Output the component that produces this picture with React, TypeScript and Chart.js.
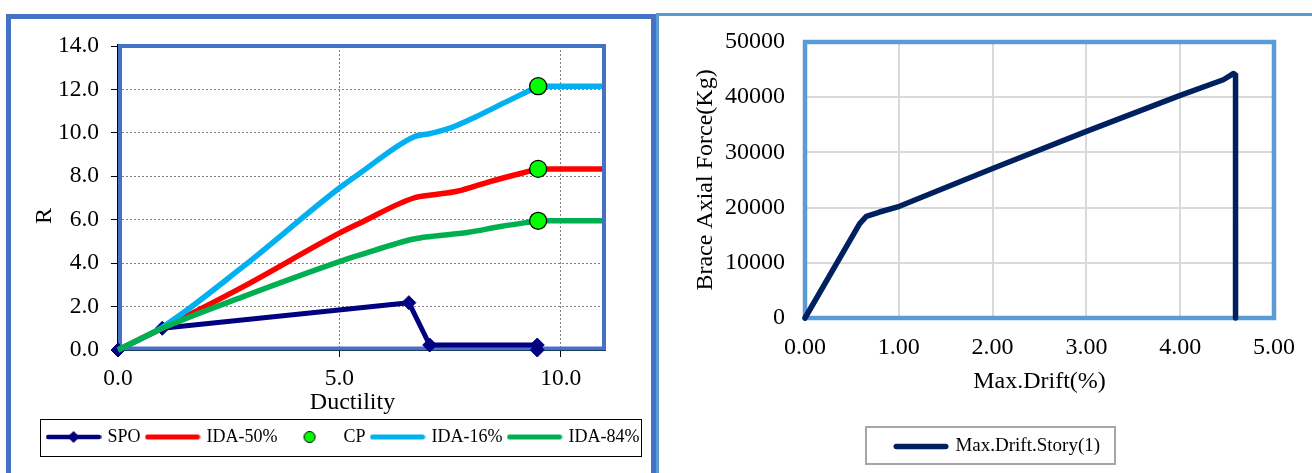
import React, { useEffect, useRef } from "react";
import { Chart, registerables } from "chart.js";

Chart.register(...registerables);

const FONT = "'Liberation Serif', 'Times New Roman', serif";

// ---- Left chart data (Ductility vs R) ----
const SPO_X = [0, 1, 6.57, 7.04, 9.47, 9.47];
const SPO_Y = [0, 1, 2.18, 0.23, 0.23, 0];
const IDA50_X = [0, 1, 2.83, 5, 5.47, 6.68, 7.13, 7.66, 8.42, 9.49, 11];
const IDA50_Y = [0, 1.0, 2.92, 5.38, 5.85, 7.0, 7.15, 7.31, 7.77, 8.34, 8.34];
const IDA16_X = [0, 1, 2.83, 5, 5.47, 6.68, 7.06, 7.51, 8.11, 8.72, 9.49, 11];
const IDA16_Y = [0, 1.05, 3.85, 7.46, 8.15, 9.81, 9.97, 10.23, 10.77, 11.38, 12.15, 12.15];
const IDA84_X = [0, 1, 2.83, 5, 5.47, 6.68, 7.06, 7.89, 8.64, 9.49, 11];
const IDA84_Y = [0, 1.0, 2.46, 4.07, 4.38, 5.11, 5.23, 5.41, 5.69, 5.95, 5.95];
const CP_X = [9.49, 9.49, 9.49];
const CP_Y = [12.15, 8.34, 5.95];
const LEFT_X_TICKS = [0, 5, 10];
const LEFT_LABELS = ["SPO", "IDA-50%", "CP", "IDA-16%", "IDA-84%"];

// ---- Right chart data (Max drift vs brace axial force) ----
const DRIFT_X = [0, 0.583, 0.654, 0.795, 1.007, 2.0, 3.0, 4.0, 4.46, 4.57, 4.59, 4.59];
const FORCE_Y = [0, 17090, 18420, 19200, 20240, 27070, 33800, 40330, 43160, 44300, 44000, 0];
const RIGHT_LABEL = "Max.Drift.Story(1)";

const NAVY = "#000080";
const RED = "#FF0000";
const CYAN = "#00B0F0";
const GREEN = "#00B050";
const CPGREEN = "#00FF00";
const DARKNAVY = "#002060";

const pts = (xs: number[], ys: number[]) => xs.map((x, i) => ({ x, y: ys[i] }));

function makeCanvas(w: number, h: number, draw: (ctx: CanvasRenderingContext2D) => void) {
  const c = document.createElement("canvas");
  c.width = w;
  c.height = h;
  const ctx = c.getContext("2d")!;
  draw(ctx);
  return c;
}

function lineSym(color: string, w: number, h: number, lw: number) {
  return makeCanvas(w, h, (ctx) => {
    ctx.strokeStyle = color;
    ctx.lineWidth = lw;
    ctx.lineCap = "round";
    ctx.beginPath();
    ctx.moveTo(lw / 2 + 0.5, h / 2);
    ctx.lineTo(w - lw / 2 - 0.5, h / 2);
    ctx.stroke();
  });
}

function spoSym() {
  return makeCanvas(56, 14, (ctx) => {
    ctx.strokeStyle = NAVY;
    ctx.lineWidth = 4.5;
    ctx.lineCap = "round";
    ctx.beginPath();
    ctx.moveTo(2.5, 7);
    ctx.lineTo(53.5, 7);
    ctx.stroke();
    ctx.fillStyle = NAVY;
    ctx.beginPath();
    ctx.moveTo(28, 1);
    ctx.lineTo(34, 7);
    ctx.lineTo(28, 13);
    ctx.lineTo(22, 7);
    ctx.closePath();
    ctx.fill();
  });
}

function cpSym() {
  return makeCanvas(14, 14, (ctx) => {
    ctx.fillStyle = CPGREEN;
    ctx.strokeStyle = "#000";
    ctx.lineWidth = 1;
    ctx.beginPath();
    ctx.arc(7, 7, 5.5, 0, Math.PI * 2);
    ctx.fill();
    ctx.stroke();
  });
}

const leftFrame = {
  id: "leftFrame",
  beforeDatasetsDraw(chart: any) {
    const { ctx, chartArea: a } = chart;
    ctx.save();
    ctx.strokeStyle = "#000";
    ctx.lineWidth = 1;
    ctx.beginPath();
    ctx.moveTo(a.left - 0.5, a.top - 2);
    ctx.lineTo(a.left - 0.5, a.bottom + 0.5);
    ctx.lineTo(a.right + 1, a.bottom + 0.5);
    ctx.stroke();
    ctx.strokeStyle = "#4472C4";
    ctx.lineWidth = 4;
    ctx.strokeRect(a.left + 2, a.top, a.right - a.left - 3, a.bottom - a.top - 1.5);
    ctx.restore();
  },
};

const rightFrame = {
  id: "rightFrame",
  beforeDatasetsDraw(chart: any) {
    const { ctx, chartArea: a } = chart;
    ctx.save();
    ctx.strokeStyle = "#5B9BD5";
    ctx.lineWidth = 4.5;
    ctx.strokeRect(a.left, a.top, a.right - a.left, a.bottom - a.top);
    ctx.restore();
  },
};

function legendFrame(color: string, lw: number, pl: number, pr: number, pt: number, pb: number) {
  return {
    id: "legendFrame",
    afterDraw(chart: any) {
      const lg = chart.legend;
      if (!lg || !lg.legendHitBoxes || !lg.legendHitBoxes.length) return;
      const hb = lg.legendHitBoxes;
      const l = Math.min(...hb.map((h: any) => h.left));
      const r = Math.max(...hb.map((h: any) => h.left + h.width));
      const t = hb[0].top;
      const b = hb[0].top + hb[0].height;
      const { ctx } = chart;
      ctx.save();
      ctx.strokeStyle = color;
      ctx.lineWidth = lw;
      const off = lw % 2 === 1 ? 0.5 : 0;
      const x0 = Math.round(l - pl) + off;
      const y0 = Math.round(t - pt) + off;
      const x1 = Math.round(r + pr) + off;
      const y1 = Math.round(b + pb) + off;
      ctx.strokeRect(x0, y0, x1 - x0, y1 - y0);
      ctx.restore();
    },
  };
}

const CLIP = { left: 10, top: 0, right: -3, bottom: 10 };
const IDA_W = 5.5;

// curve part (monotone) up to the CP point, then the flat part after it
function idaSets(label: string, xs: number[], ys: number[], color: string, order: number) {
  return [
    {
      label,
      data: pts(xs.slice(0, -1), ys.slice(0, -1)),
      borderColor: color,
      backgroundColor: color,
      borderWidth: IDA_W,
      cubicInterpolationMode: "monotone",
      pointRadius: 0,
      order,
      clip: CLIP,
    },
    {
      label: label + "_flat",
      data: pts(xs.slice(-2), ys.slice(-2)),
      borderColor: color,
      backgroundColor: color,
      borderWidth: IDA_W,
      tension: 0,
      pointRadius: 0,
      order,
      clip: CLIP,
    },
  ];
}

function leftConfig(): any {
  const symbols = [
    spoSym(),
    lineSym(RED, 56, 7, 5),
    cpSym(),
    lineSym(CYAN, 56, 7, 5),
    lineSym(GREEN, 56, 7, 5),
  ];
  const tickFont = { family: FONT, size: 23.5 };
  const [r1, r2] = idaSets(LEFT_LABELS[1], IDA50_X, IDA50_Y, RED, 3);
  const [c1, c2] = idaSets(LEFT_LABELS[3], IDA16_X, IDA16_Y, CYAN, 2);
  const [g1, g2] = idaSets(LEFT_LABELS[4], IDA84_X, IDA84_Y, GREEN, 1);
  return {
    type: "line",
    data: {
      datasets: [
        {
          label: LEFT_LABELS[0],
          data: pts(SPO_X, SPO_Y),
          borderColor: NAVY,
          backgroundColor: NAVY,
          borderWidth: 5,
          tension: 0,
          pointStyle: "rectRot",
          pointRadius: 7,
          pointBorderWidth: 1,
          pointBackgroundColor: NAVY,
          pointBorderColor: NAVY,
          borderJoinStyle: "round",
          order: 4,
          clip: CLIP,
        },
        r1,
        {
          label: LEFT_LABELS[2],
          data: pts(CP_X, CP_Y),
          showLine: false,
          borderColor: "#000",
          backgroundColor: CPGREEN,
          pointRadius: 8.5,
          pointBackgroundColor: CPGREEN,
          pointBorderColor: "#000",
          pointBorderWidth: 1.3,
          order: 0,
          clip: false,
        },
        c1,
        g1,
        r2,
        c2,
        g2,
      ],
    },
    options: {
      animation: false,
      responsive: false,
      devicePixelRatio: 1,
      layout: { padding: { left: 0, right: 0, top: 46, bottom: 17 } },
      plugins: {
        tooltip: { enabled: false },
        legend: {
          position: "bottom",
          labels: {
            usePointStyle: true,
            pointStyleWidth: 50,
            padding: 7,
            color: "#000",
            font: { family: FONT, size: 18 },
            filter: (item: any) => item.datasetIndex < 5,
            sort: (a: any, b: any) => a.datasetIndex - b.datasetIndex,
            generateLabels: (chart: any) => {
              const items = (Chart.defaults.plugins.legend.labels as any).generateLabels(chart);
              items.forEach((it: any) => {
                it.pointStyle = symbols[it.datasetIndex];
              });
              return items;
            },
          },
        },
      },
      scales: {
        x: {
          type: "linear",
          min: 0,
          max: 11,
          afterBuildTicks: (s: any) => {
            s.ticks = LEFT_X_TICKS.map((v) => ({ value: v }));
          },
          afterFit: (s: any) => {
            s.height = 71;
          },
          ticks: {
            callback: (v: any) => Number(v).toFixed(1),
            font: tickFont,
            color: "#000",
            padding: 8,
            maxRotation: 0,
          },
          grid: { color: "#7f7f7f", lineWidth: 1, tickLength: 7, tickColor: "#000", tickWidth: 1, tickBorderDash: [] },
          border: { display: false, dash: [2, 2] },
          title: {
            display: true,
            text: "Ductility\u00a0\u00a0\u00a0",
            color: "#000",
            font: { family: FONT, size: 24 },
            padding: { top: 0, bottom: 4 },
          },
        },
        y: {
          type: "linear",
          min: 0,
          max: 14,
          afterFit: (s: any) => {
            s.width = 98;
          },
          ticks: {
            stepSize: 2,
            callback: (v: any) => Number(v).toFixed(1),
            font: tickFont,
            color: "#000",
            padding: 12,
          },
          grid: { color: "#7f7f7f", lineWidth: 1, tickLength: 7, tickColor: "#000", tickWidth: 1, tickBorderDash: [] },
          border: { display: false, dash: [2, 2] },
          title: {
            display: true,
            text: "R\u00a0\u00a0\u00a0\u00a0\u00a0\u00a0",
            color: "#000",
            font: { family: FONT, size: 24 },
            padding: { top: 10, bottom: 0 },
          },
        },
        yR: {
          type: "linear",
          position: "right",
          display: true,
          grid: { display: false, drawTicks: false },
          ticks: { display: false },
          border: { display: false },
          afterFit: (s: any) => {
            s.width = 63;
          },
        },
      },
    },
    plugins: [leftFrame, legendFrame("#000", 1, 8.5, 2, 9, 10)],
  };
}

function rightConfig(): any {
  const sym = lineSym(DARKNAVY, 56, 7, 5.5);
  const tickFont = { family: FONT, size: 24 };
  return {
    type: "line",
    data: {
      datasets: [
        {
          label: RIGHT_LABEL,
          data: pts(DRIFT_X, FORCE_Y),
          borderColor: DARKNAVY,
          backgroundColor: DARKNAVY,
          borderWidth: 5.5,
          tension: 0,
          pointRadius: 0,
          borderJoinStyle: "round",
          borderCapStyle: "round",
          clip: 4,
        },
      ],
    },
    options: {
      animation: false,
      responsive: false,
      devicePixelRatio: 1,
      layout: { padding: { left: 25, right: 0, top: 42, bottom: 7 } },
      plugins: {
        tooltip: { enabled: false },
        legend: {
          position: "bottom",
          labels: {
            usePointStyle: true,
            pointStyleWidth: 50,
            padding: 8,
            color: "#000",
            font: { family: FONT, size: 19 },
            generateLabels: (chart: any) => {
              const items = (Chart.defaults.plugins.legend.labels as any).generateLabels(chart);
              items.forEach((it: any) => {
                it.pointStyle = sym;
              });
              return items;
            },
          },
        },
      },
      scales: {
        x: {
          type: "linear",
          min: 0,
          max: 5,
          afterFit: (s: any) => {
            s.height = 111;
          },
          ticks: {
            stepSize: 1,
            callback: (v: any) => Number(v).toFixed(2),
            font: tickFont,
            color: "#000",
            padding: 15,
            maxRotation: 0,
          },
          grid: { color: "#D9D9D9", lineWidth: 2, drawTicks: false },
          border: { display: false },
          title: {
            display: true,
            text: "Max.Drift(%)",
            color: "#000",
            font: { family: FONT, size: 24 },
            padding: { top: 0, bottom: 33 },
          },
        },
        y: {
          type: "linear",
          min: 0,
          max: 50000,
          afterFit: (s: any) => {
            s.width = 121;
          },
          ticks: {
            stepSize: 10000,
            callback: (v: any) => String(v),
            font: tickFont,
            color: "#000",
            padding: 20,
          },
          grid: { color: "#D9D9D9", lineWidth: 2, drawTicks: false },
          border: { display: false },
          title: {
            display: true,
            text: "Brace Axial Force(Kg)",
            color: "#000",
            font: { family: FONT, size: 24 },
            padding: { top: 7, bottom: 0 },
          },
        },
        yR: {
          type: "linear",
          position: "right",
          display: true,
          grid: { display: false, drawTicks: false },
          ticks: { display: false },
          border: { display: false },
          afterFit: (s: any) => {
            s.width = 38;
          },
        },
      },
    },
    plugins: [rightFrame, legendFrame("#A6A6A6", 2, 30, 14.5, 10, 8)],
  };
}

export default function App() {
  const leftRef = useRef<HTMLCanvasElement>(null);
  const rightRef = useRef<HTMLCanvasElement>(null);

  useEffect(() => {
    const c1 = new Chart(leftRef.current as HTMLCanvasElement, leftConfig());
    const c2 = new Chart(rightRef.current as HTMLCanvasElement, rightConfig());
    return () => {
      c1.destroy();
      c2.destroy();
    };
  }, []);

  return (
    <div
      style={{
        position: "fixed",
        left: 0,
        top: 0,
        width: 1312,
        height: 473,
        overflow: "hidden",
        background: "#fff",
      }}
    >
      <canvas
        ref={leftRef}
        width={648}
        height={473}
        style={{ position: "absolute", left: 20, top: 0, width: 648, height: 473 }}
      />
      <canvas
        ref={rightRef}
        width={653}
        height={473}
        style={{ position: "absolute", left: 659, top: 0, width: 653, height: 473 }}
      />
      <div
        style={{
          position: "absolute",
          left: 6,
          top: 14,
          width: 650,
          height: 500,
          border: "5px solid #4472C4",
          boxSizing: "border-box",
          pointerEvents: "none",
        }}
      />
      <div
        style={{
          position: "absolute",
          left: 656,
          top: 13,
          width: 700,
          height: 500,
          border: "3px solid #5B9BD5",
          boxSizing: "border-box",
          pointerEvents: "none",
        }}
      />
    </div>
  );
}
